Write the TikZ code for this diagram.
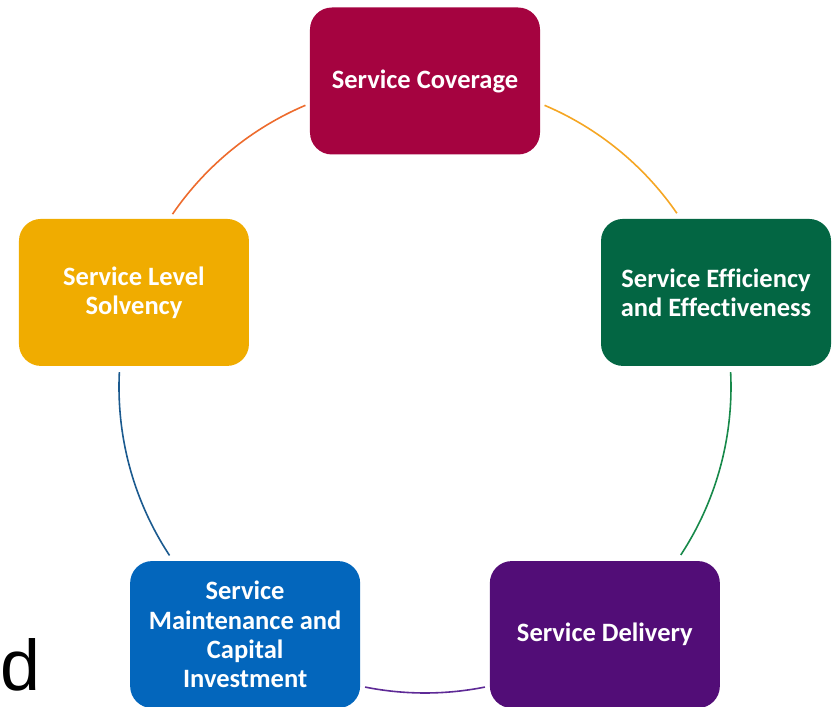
\documentclass[tikz,border=0pt]{standalone}
\usepackage{fontspec}
\setmainfont[Ligatures=NoCommon]{Carlito}
\newfontfamily\arialfont{Liberation Sans}

\definecolor{covred}{HTML}{A50340}
\definecolor{effgreen}{HTML}{036643}
\definecolor{delpurple}{HTML}{520D77}
\definecolor{mntblue}{HTML}{0366BC}
\definecolor{solamber}{HTML}{F0AC00}
\definecolor{ringamber}{HTML}{F5A623}
\definecolor{ringgreen}{HTML}{17894A}
\definecolor{ringpurple}{HTML}{5E2A96}
\definecolor{ringblue}{HTML}{1B5A8F}
\definecolor{ringorange}{HTML}{ED6B2D}

\tikzset{
  stage/.style={rectangle, rounded corners=22bp, minimum width=230bp, minimum height=147bp,
    inner sep=0pt, text=white, align=center, font=\bfseries\fontsize{26.6}{29.3}\selectfont},
  ring/.style={line width=1.6bp}
}

\begin{document}
\begin{tikzpicture}[x=1bp, y=1bp]
        \useasboundingbox (-425,-320) rectangle (411,387);

        % five stages round the ring
        \node[stage, fill=covred]    (cov) at (90:306bp)   {Service Coverage};
        \node[stage, fill=effgreen]  (eff) at (18:306bp)   {Service Efficiency\\and Effectiveness};
        \node[stage, fill=delpurple] (del) at (-54:306bp)  {Service Delivery};
        \node[stage, fill=mntblue]   (mnt) at (-126:306bp) {Service\\Maintenance and\\Capital\\Investment};
        \node[stage, fill=solamber]  (sol) at (162:306bp)  {Service Level\\Solvency};

        % ring segments between the stages
        \foreach \a/\b/\c in {67/34.6/ringamber, 2.8/-33.3/ringgreen, -78.7/-101.3/ringpurple, -146.6/-182.8/ringblue, 145.6/113/ringorange} {
            \draw[ring, \c] (\a:306bp) arc[start angle=\a, end angle=\b, radius=306bp];
        }

        \node[anchor=base west, inner sep=0pt, font=\arialfont\fontsize{72}{72}\selectfont] (dtxt) at (-425,-303) {d};

    \end{tikzpicture}
\end{document}
